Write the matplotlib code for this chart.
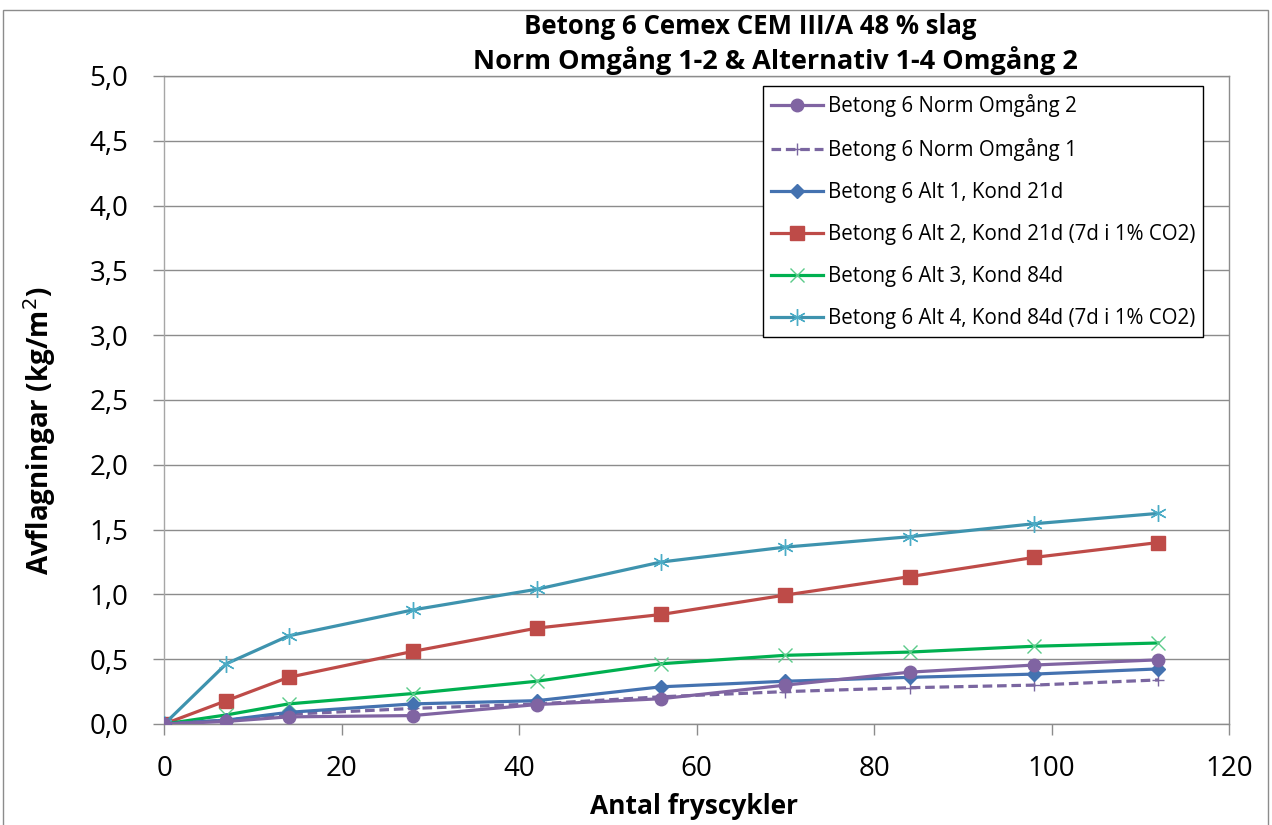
import matplotlib

matplotlib.use("Agg")

import matplotlib.pyplot as plt  # noqa: E402
from matplotlib.patches import Rectangle  # noqa: E402
from matplotlib.ticker import FuncFormatter, MultipleLocator  # noqa: E402

plt.rcParams["font.family"] = ["Open Sans", "DejaVu Sans"]

# --- Datos ---
cycles = [0, 7, 14, 28, 42, 56, 70, 84, 98, 112]

norm_omg2 = [0.0, 0.02, 0.055, 0.065, 0.15, 0.195, 0.30, 0.40, 0.455, 0.495]
norm_omg1 = [0.0, 0.03, 0.075, 0.12, 0.155, 0.21, 0.25, 0.28, 0.30, 0.34]
alt1 = [0.0, 0.03, 0.09, 0.155, 0.18, 0.287, 0.33, 0.36, 0.385, 0.425]
alt2 = [0.0, 0.18, 0.36, 0.56, 0.74, 0.845, 0.995, 1.137, 1.285, 1.40]
alt3 = [0.0, 0.07, 0.155, 0.235, 0.33, 0.465, 0.53, 0.555, 0.60, 0.625]
alt4 = [0.0, 0.465, 0.68, 0.88, 1.04, 1.25, 1.365, 1.445, 1.545, 1.625]

labels = [
    "Betong 6 Norm Omgång 2",
    "Betong 6 Norm Omgång 1",
    "Betong 6 Alt 1, Kond 21d",
    "Betong 6 Alt 2, Kond 21d (7d i 1% CO2)",
    "Betong 6 Alt 3, Kond 84d",
    "Betong 6 Alt 4, Kond 84d (7d i 1% CO2)",
]

W, H = 1272, 825
fig = plt.figure(figsize=(W / 100, H / 100), dpi=100)
ax = fig.add_axes([164.3 / W, 1 - 724 / H, (1229 - 164.3) / W, (724 - 76) / H])

lw = 2.3
ax.plot(cycles, norm_omg2, color="#8064A2", lw=lw, marker="o", ms=9, label=labels[0], zorder=5)
ax.plot(cycles, norm_omg1, color="#7A66A0", lw=lw, ls=(0, (3, 1.5)), marker="+", ms=9,
        mew=1.0, label=labels[1], zorder=4)
ax.plot(cycles, alt1, color="#4472B0", lw=lw, marker="D", ms=7.5, label=labels[2], zorder=4)
ax.plot(cycles, alt2, color="#BE4B48", lw=lw, marker="s", ms=10, label=labels[3], zorder=3)
ax.plot(cycles, alt3, color="#00B050", lw=lw, marker="x", ms=10, mew=1.0, mec="#5BCB8A",
        label=labels[4], zorder=3)
ax.plot(cycles, alt4, color="#3E93AE", lw=lw, marker=(6, 2, 0), ms=12, mew=1.0, mec="#4BACC6",
        label=labels[5], zorder=3)

ax.set_xlim(0, 120)
ax.set_ylim(0, 5)
ax.xaxis.set_major_locator(MultipleLocator(20))
ax.yaxis.set_major_locator(MultipleLocator(0.5))
ax.yaxis.set_major_formatter(FuncFormatter(lambda v, _: f"{v:.1f}".replace(".", ",")))
ax.grid(axis="y", color="#8C8C8C", lw=1.0)
ax.set_axisbelow(True)
for side in ["left", "bottom", "right", "top"]:
    ax.spines[side].set_color("#8C8C8C")
    ax.spines[side].set_linewidth(1.0)
ax.spines["left"].set_color("#A6A6A6")
ax.tick_params(axis="both", colors="#8C8C8C", labelcolor="black", labelsize=20,
               length=8, width=1.0, direction="out")
ax.tick_params(axis="x", pad=14)
ax.tick_params(axis="y", pad=18)

leg = ax.legend(loc="upper left", bbox_to_anchor=(763 / W, 1 - 86 / H),
                bbox_transform=fig.transFigure, borderaxespad=0, fontsize=14.8,
                frameon=True, fancybox=False, edgecolor="black", framealpha=1,
                borderpad=0.4, labelspacing=1.02, handlelength=2.5, handletextpad=0.25)
leg.get_frame().set_linewidth(1.0)

fig.text(750 / W, 1 - 27 / H, "Betong 6 Cemex CEM III/A 48 % slag", ha="center",
         va="center", fontsize=18.5, fontweight="bold")
fig.text(775 / W, 1 - 61 / H, "Norm Omgång 1-2 & Alternativ 1-4 Omgång 2", ha="center",
         va="center", fontsize=19.5, fontweight="bold")
fig.text(40 / W, 1 - 431 / H, "Avflagningar (kg/m$^2$)", ha="center", va="center",
         rotation=90, fontsize=20, fontweight="bold")
fig.text(694 / W, 1 - 806 / H, "Antal fryscykler", ha="center", va="center",
         fontsize=19, fontweight="bold")

# marco exterior del gráfico
fig.patches.append(Rectangle((3 / W, -0.02), (1268 - 3) / W, 1.02 - 10 / H,
                             transform=fig.transFigure, fill=False,
                             edgecolor="#8C8C8C", lw=1.0))

fig.savefig("out.png", dpi=100)
plt.close(fig)
